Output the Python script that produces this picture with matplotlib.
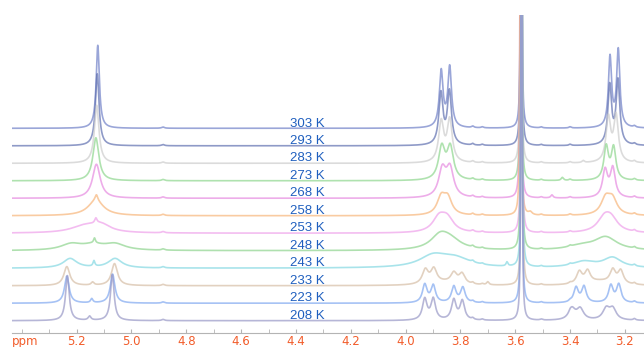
import numpy as np
import matplotlib
matplotlib.use('Agg')
import matplotlib.pyplot as plt

# temperatures, top trace first
temps = ['303 K', '293 K', '283 K', '273 K', '268 K', '258 K',
         '253 K', '248 K', '243 K', '233 K', '223 K', '208 K']
colors = ['#7080c8', '#5f6fb0', '#cdcdcd', '#8ed68e', '#e68ae0', '#f7b57a',
          '#eea0ea', '#8ed48e', '#84d8e2', '#d6bea6', '#80a8f0', '#9898c6']

# peaks: (ppm, height in px, half width in ppm)
p303 = [(5.123, 83, 0.007), (3.870, 56, 0.008), (3.839, 60, 0.008),
        (3.254, 70, 0.007), (3.224, 77, 0.007)]
p293 = [(5.125, 72, 0.008), (3.871, 51, 0.009), (3.840, 53, 0.009),
        (3.255, 59, 0.008), (3.225, 64, 0.008)]
p283 = [(5.127, 58, 0.010), (3.870, 40, 0.011), (3.839, 42, 0.011),
        (3.260, 44, 0.010), (3.232, 46, 0.010), (3.352, 2, 0.005)]
p273 = [(5.130, 43, 0.013), (3.868, 32, 0.014), (3.837, 32, 0.014),
        (3.268, 33, 0.010), (3.241, 32, 0.010), (3.428, 3, 0.005)]
p268 = [(5.128, 34, 0.017), (3.866, 27, 0.016), (3.838, 28, 0.016),
        (3.272, 27, 0.011), (3.244, 29, 0.011), (3.466, 3, 0.005)]
p258 = [(5.130, 15, 0.035), (5.128, 6, 0.006), (3.870, 17, 0.018), (3.846, 16, 0.018),
        (3.270, 16, 0.020), (3.245, 15, 0.020), (3.545, 3, 0.008)]
p253 = [(5.170, 7, 0.060), (5.110, 7, 0.040), (5.130, 5, 0.005),
        (3.878, 14, 0.028), (3.848, 13, 0.028), (3.275, 13, 0.030), (3.250, 12, 0.030)]
p248 = [(5.220, 6, 0.045), (5.140, 5, 0.050), (5.060, 6, 0.045), (5.135, 5, 0.004),
        (3.875, 12, 0.040), (3.840, 10, 0.050), (3.270, 13, 0.050), (3.360, 4, 0.060)]
p243 = [(5.224, 9.5, 0.030), (5.060, 9.5, 0.030), (5.137, 5.5, 0.004),
        (3.900, 11, 0.060), (3.820, 9, 0.070), (3.630, 4, 0.004),
        (3.350, 6, 0.050), (3.245, 10, 0.040)]
p233 = [(5.236, 19, 0.013), (5.062, 22, 0.013), (5.142, 3, 0.006),
        (3.928, 14, 0.013), (3.897, 14, 0.013), (3.824, 10, 0.013), (3.794, 10, 0.013),
        (3.860, 3, 0.060), (3.700, 3, 0.005),
        (3.366, 12, 0.012), (3.336, 12, 0.012), (3.244, 13, 0.012), (3.215, 13, 0.012),
        (3.290, 4, 0.060)]
p223 = [(5.236, 27, 0.010), (5.069, 29, 0.010), (5.145, 4, 0.005),
        (3.930, 18, 0.010), (3.899, 17, 0.010), (3.824, 16, 0.010), (3.791, 15, 0.010),
        (3.378, 15, 0.010), (3.349, 16, 0.010), (3.251, 17, 0.010), (3.222, 18, 0.010)]
p208 = [(5.234, 45, 0.008), (5.070, 46, 0.008), (5.153, 4, 0.006),
        (3.930, 21, 0.010), (3.899, 21, 0.010), (3.824, 20, 0.010), (3.793, 19, 0.010),
        (3.393, 11, 0.015), (3.363, 11, 0.015), (3.268, 11, 0.015), (3.244, 11, 0.015)]
peak_lists = [p303, p293, p283, p273, p268, p258, p253, p248, p243, p233, p223, p208]

# small peaks seen in every trace, and the solvent line
minor_peaks = [(4.885, 1.2, 0.006), (3.755, 1.5, 0.005), (3.720, 1.0, 0.005),
               (3.505, 1.0, 0.005), (3.400, 1.2, 0.005), (3.165, 1.5, 0.005)]
solvent_ppm = [3.578, 3.578, 3.579, 3.579, 3.580, 3.580,
               3.577, 3.577, 3.576, 3.576, 3.577, 3.577]

tick_vals = [5.2, 5.0, 4.8, 4.6, 4.4, 4.2, 4.0, 3.8, 3.6, 3.4, 3.2]
tick_labels = ['5.2', '5.0', '4.8', '4.6', '4.4', '4.2', '4.0', '3.8', '3.6', '3.4', '3.2']

LABEL_BLUE = '#1f5fbf'
AXIS_ORANGE = '#f25c2a'


def lorentz(x, x0, h, g):
    return h * g ** 2 / ((x - x0) ** 2 + g ** 2)


x = np.linspace(5.436, 3.13, 20000)

fig = plt.figure(figsize=(6.44, 3.47), dpi=100)
ax = fig.add_axes([12 / 644, 14 / 347, 632 / 644, 318 / 347])

n = len(temps)
for i in range(n):
    base = 12.3 + (n - 1 - i) * 17.49
    y = np.zeros_like(x)
    for (p, h, g) in peak_lists[i] + minor_peaks:
        y += lorentz(x, p, h, g)
    y += lorentz(x, solvent_ppm[i], 3000, 0.0008)
    ax.plot(x, base + y, color=colors[i], lw=1.2, alpha=0.7)
    ax.text(4.359, base + 1.8, temps[i], color=LABEL_BLUE, fontsize=9.5,
            family=['Liberation Sans', 'DejaVu Sans'], ha='center', va='baseline')

ax.set_xlim(5.436, 3.13)
ax.set_ylim(0, 318)
for s in ['top', 'left', 'right']:
    ax.spines[s].set_visible(False)
ax.spines['bottom'].set_color('#b4b4b4')
ax.set_yticks([])
ax.set_xticks(tick_vals)
ax.set_xticklabels(tick_labels)
ax.set_xticks(np.arange(3.2, 5.45, 0.1), minor=True)
ax.tick_params(axis='x', which='both', direction='in', length=3, color='#b4b4b4',
               labelcolor=AXIS_ORANGE, labelsize=8.5, pad=1.5)
fig.text(12 / 644, 1 - 341 / 347, 'ppm', color=AXIS_ORANGE, fontsize=8.5,
         ha='left', va='center')

fig.savefig('out.png', dpi=100)
